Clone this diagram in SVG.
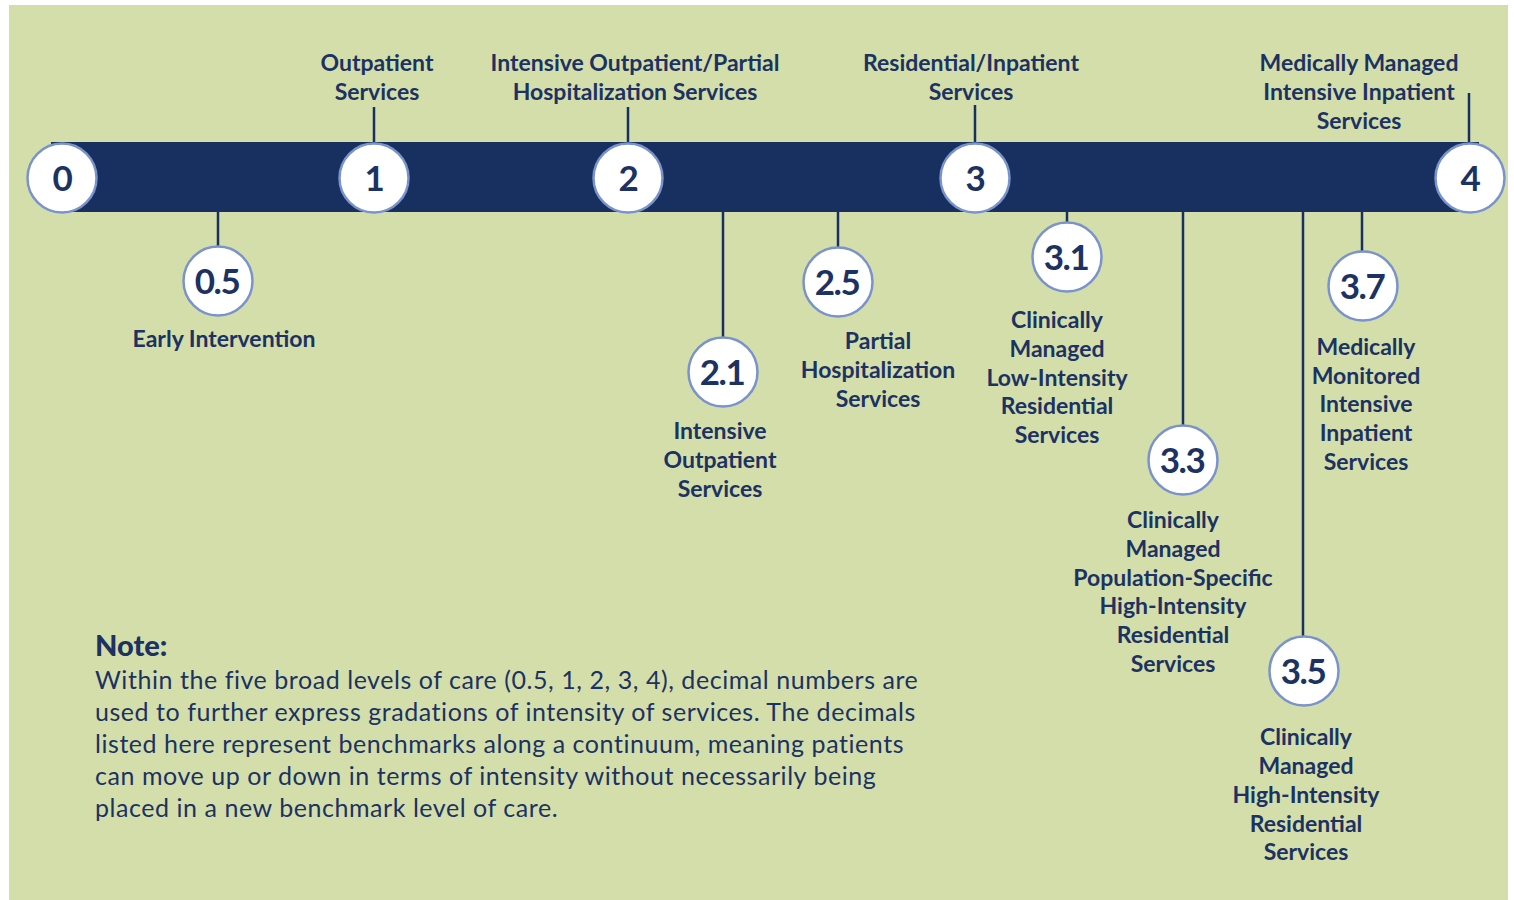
<svg xmlns="http://www.w3.org/2000/svg" width="1514" height="900" viewBox="0 0 1514 900">
<style>
.lbl{font-family:Lato,"Open Sans",sans-serif;font-weight:700;font-size:23px;fill:#1B3263;text-anchor:middle}
.num{font-family:Lato,"Open Sans",sans-serif;font-weight:700;font-size:35px;fill:#1B3263;text-anchor:middle;letter-spacing:-1.5px}
.note{font-family:Lato,"Open Sans",sans-serif;font-weight:400;font-size:25px;letter-spacing:0.55px;fill:#1B3263}
.noteh{font-family:Lato,"Open Sans",sans-serif;font-weight:900;font-size:29px;fill:#1B3263}
.c{fill:#fff;stroke:#7A93CC;stroke-width:2.5}
.ln{stroke:#17305F;stroke-width:2.5;fill:none}
</style>
<rect x="9" y="5" width="1499" height="895" fill="#D4DEAA"/>
<rect x="51" y="142" width="1428" height="70" fill="#17305F"/>
<g id="connectors">
<line class="ln" x1="374" y1="107" x2="374" y2="142"/>
<line class="ln" x1="628" y1="107" x2="628" y2="142"/>
<line class="ln" x1="975" y1="105" x2="975" y2="142"/>
<line class="ln" x1="1469" y1="93" x2="1469" y2="142"/>
<line class="ln" x1="218" y1="212" x2="218" y2="246"/>
<line class="ln" x1="723" y1="212" x2="723" y2="337"/>
<line class="ln" x1="838" y1="212" x2="838" y2="247"/>
<line class="ln" x1="1067" y1="212" x2="1067" y2="222"/>
<line class="ln" x1="1183" y1="212" x2="1183" y2="425"/>
<line class="ln" x1="1303" y1="212" x2="1303" y2="636"/>
<line class="ln" x1="1362" y1="212" x2="1362" y2="251"/>
</g>
<g id="n0"><circle class="c" cx="62" cy="178" r="34.5"/><text class="num" x="62" y="191">0</text></g>
<g id="n1"><circle class="c" cx="374" cy="178" r="34.5"/><text class="num" x="374" y="191">1</text>
<text class="lbl" x="377" y="71">Outpatient</text><text class="lbl" x="377" y="100">Services</text></g>
<g id="n2"><circle class="c" cx="628" cy="178" r="34.5"/><text class="num" x="628" y="191">2</text>
<text class="lbl" x="635" y="71">Intensive Outpatient/Partial</text><text class="lbl" x="635" y="100">Hospitalization Services</text></g>
<g id="n3"><circle class="c" cx="975" cy="178" r="34.5"/><text class="num" x="975" y="191">3</text>
<text class="lbl" x="971" y="71">Residential/Inpatient</text><text class="lbl" x="971" y="100">Services</text></g>
<g id="n4"><circle class="c" cx="1470" cy="178" r="34.5"/><text class="num" x="1470" y="191">4</text>
<text class="lbl" x="1359" y="71">Medically Managed</text><text class="lbl" x="1359" y="100">Intensive Inpatient</text><text class="lbl" x="1359" y="129">Services</text></g>
<g id="n05"><circle class="c" cx="218" cy="281" r="34.5"/><text class="num" x="217" y="294">0.5</text>
<text class="lbl" x="224" y="347">Early Intervention</text></g>
<g id="n21"><circle class="c" cx="723" cy="372" r="34.5"/><text class="num" x="722" y="385">2.1</text>
<text class="lbl" x="720" y="439">Intensive</text><text class="lbl" x="720" y="468">Outpatient</text><text class="lbl" x="720" y="497">Services</text></g>
<g id="n25"><circle class="c" cx="838" cy="282" r="34.5"/><text class="num" x="837" y="295">2.5</text>
<text class="lbl" x="878" y="349">Partial</text><text class="lbl" x="878" y="378">Hospitalization</text><text class="lbl" x="878" y="407">Services</text></g>
<g id="n31"><circle class="c" cx="1067" cy="257" r="34.5"/><text class="num" x="1066" y="270">3.1</text>
<text class="lbl" x="1057" y="328">Clinically</text><text class="lbl" x="1057" y="357">Managed</text><text class="lbl" x="1057" y="386">Low-Intensity</text><text class="lbl" x="1057" y="414">Residential</text><text class="lbl" x="1057" y="443">Services</text></g>
<g id="n33"><circle class="c" cx="1183" cy="460" r="34.5"/><text class="num" x="1182" y="473">3.3</text>
<text class="lbl" x="1173" y="528">Clinically</text><text class="lbl" x="1173" y="557">Managed</text><text class="lbl" x="1173" y="586">Population-Specific</text><text class="lbl" x="1173" y="614">High-Intensity</text><text class="lbl" x="1173" y="643">Residential</text><text class="lbl" x="1173" y="672">Services</text></g>
<g id="n35"><circle class="c" cx="1304" cy="671" r="34.5"/><text class="num" x="1303" y="684">3.5</text>
<text class="lbl" x="1306" y="745">Clinically</text><text class="lbl" x="1306" y="774">Managed</text><text class="lbl" x="1306" y="803">High-Intensity</text><text class="lbl" x="1306" y="832">Residential</text><text class="lbl" x="1306" y="860">Services</text></g>
<g id="n37"><circle class="c" cx="1363" cy="286" r="34.5"/><text class="num" x="1362" y="299">3.7</text>
<text class="lbl" x="1366" y="355">Medically</text><text class="lbl" x="1366" y="384">Monitored</text><text class="lbl" x="1366" y="412">Intensive</text><text class="lbl" x="1366" y="441">Inpatient</text><text class="lbl" x="1366" y="470">Services</text></g>
<g id="note">
<text class="noteh" x="95" y="656">Note:</text>
<text class="note" x="95" y="689">Within the five broad levels of care (0.5, 1, 2, 3, 4), decimal numbers are</text>
<text class="note" x="95" y="721">used to further express gradations of intensity of services. The decimals</text>
<text class="note" x="95" y="753">listed here represent benchmarks along a continuum, meaning patients</text>
<text class="note" x="95" y="785">can move up or down in terms of intensity without necessarily being</text>
<text class="note" x="95" y="817">placed in a new benchmark level of care.</text>
</g>
</svg>
